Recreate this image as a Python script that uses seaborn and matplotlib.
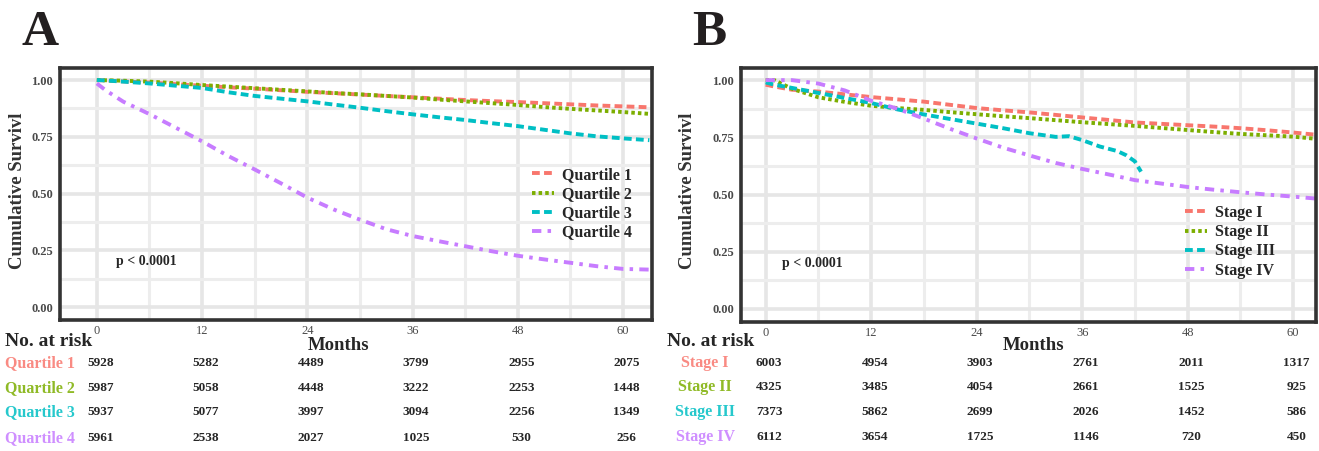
import numpy as np
import pandas as pd
import matplotlib
matplotlib.use("Agg")
import matplotlib.pyplot as plt
import matplotlib.ticker as mticker
from matplotlib.transforms import blended_transform_factory
import seaborn as sns

# ---- data ----
times_a = [0, 1, 3, 6, 9, 12, 15, 18, 21, 24, 27, 30, 33, 36, 39, 42, 45, 48, 51, 54, 57, 60, 63]
quartile_1 = [1.0, 0.998, 0.994, 0.989, 0.982, 0.975, 0.968, 0.962, 0.955, 0.948, 0.942, 0.936,
              0.930, 0.924, 0.918, 0.912, 0.907, 0.903, 0.898, 0.893, 0.888, 0.884, 0.880]
quartile_2 = [1.0, 0.999, 0.997, 0.993, 0.986, 0.978, 0.971, 0.964, 0.957, 0.950, 0.943, 0.937,
              0.930, 0.923, 0.914, 0.906, 0.898, 0.890, 0.881, 0.873, 0.866, 0.859, 0.851]
quartile_3 = [1.0, 0.998, 0.993, 0.985, 0.975, 0.965, 0.946, 0.930, 0.918, 0.906, 0.892, 0.878,
              0.863, 0.849, 0.836, 0.824, 0.810, 0.797, 0.781, 0.765, 0.752, 0.743, 0.735]
quartile_4 = [0.985, 0.955, 0.905, 0.850, 0.790, 0.730, 0.665, 0.606, 0.545, 0.482, 0.430, 0.385,
              0.343, 0.313, 0.290, 0.268, 0.246, 0.226, 0.210, 0.195, 0.180, 0.168, 0.165]

times_b = [0, 1, 3, 6, 9, 12, 15, 18, 21, 24, 27, 30, 33, 36, 39, 42, 45, 48, 51, 54, 57, 60, 63]
stage_1 = [0.980, 0.972, 0.958, 0.950, 0.938, 0.926, 0.916, 0.906, 0.892, 0.878, 0.868, 0.859,
           0.848, 0.837, 0.826, 0.815, 0.809, 0.803, 0.797, 0.790, 0.781, 0.771, 0.760]
stage_2 = [1.0, 1.0, 0.962, 0.925, 0.905, 0.888, 0.878, 0.870, 0.860, 0.851, 0.842, 0.834,
           0.825, 0.816, 0.808, 0.800, 0.791, 0.782, 0.773, 0.765, 0.759, 0.753, 0.742]
times_stage_3 = [0, 1, 3, 6, 9, 12, 15, 18, 21, 24, 27, 30, 33, 34.5, 36, 38, 40, 41, 42, 42.3, 42.7]
stage_3 = [0.990, 0.980, 0.966, 0.944, 0.922, 0.900, 0.872, 0.850, 0.830, 0.810, 0.790, 0.768,
           0.752, 0.755, 0.738, 0.710, 0.690, 0.672, 0.645, 0.625, 0.600]
stage_4 = [1.0, 1.0, 1.0, 0.985, 0.955, 0.910, 0.875, 0.832, 0.787, 0.745, 0.705, 0.671,
           0.638, 0.612, 0.588, 0.563, 0.548, 0.533, 0.521, 0.510, 0.500, 0.491, 0.481]

groups_a = ["Quartile 1", "Quartile 2", "Quartile 3", "Quartile 4"]
groups_b = ["Stage I", "Stage II", "Stage III", "Stage IV"]

risk_times = [0, 12, 24, 36, 48, 60]
risk_a = [[5928, 5282, 4489, 3799, 2955, 2075],
          [5987, 5058, 4448, 3222, 2253, 1448],
          [5937, 5077, 3997, 3094, 2256, 1349],
          [5961, 2538, 2027, 1025, 530, 256]]
risk_b = [[6003, 4954, 3903, 2761, 2011, 1317],
          [4325, 3485, 4054, 2661, 1525, 925],
          [7373, 5862, 2699, 2026, 1452, 586],
          [6112, 3654, 1725, 1146, 720, 450]]

colors = ["#F8766D", "#7CAE00", "#00BFC4", "#C77CFF"]
dash_styles = [(2.0, 1.1), (0.9, 0.8), (2.0, 1.1), (2.4, 1.6, 0.9, 1.6)]

# long tables for seaborn
df_a = pd.concat([pd.DataFrame({"Months": times_a, "Survival": v, "group": g})
                  for g, v in zip(groups_a, [quartile_1, quartile_2, quartile_3, quartile_4])])
df_b = pd.concat([pd.DataFrame({"Months": t, "Survival": v, "group": g})
                  for g, t, v in zip(groups_b,
                                     [times_b, times_b, times_stage_3, times_b],
                                     [stage_1, stage_2, stage_3, stage_4])])

sns.set_style("white")
plt.rcParams["font.family"] = ["Liberation Serif", "DejaVu Serif"]

W, H = 1319, 451
fig = plt.figure(figsize=(W / 100, H / 100), dpi=100)


def px_axes(left, top, right, bottom):
    return fig.add_axes([left / W, 1 - bottom / H, (right - left) / W, (bottom - top) / H])


def style_axes(ax, xlim):
    ax.set_xlim(*xlim)
    ax.set_ylim(-0.057, 1.053)
    ax.xaxis.set_major_locator(mticker.MultipleLocator(12))
    ax.xaxis.set_minor_locator(mticker.MultipleLocator(6))
    ax.yaxis.set_major_locator(mticker.FixedLocator([0, 0.25, 0.5, 0.75, 1.0]))
    ax.yaxis.set_minor_locator(mticker.FixedLocator([0.125, 0.375, 0.625, 0.875]))
    ax.yaxis.set_major_formatter(mticker.FormatStrFormatter("%.2f"))
    ax.grid(which="major", color="#E6E6E6", lw=2.6)
    ax.grid(which="minor", color="#EDEDED", lw=2.2)
    ax.set_axisbelow(True)
    for s in ax.spines.values():
        s.set_color("#333333")
        s.set_linewidth(2.6)
    ax.tick_params(axis="both", which="major", length=3, width=0.8, color="#333333",
                   labelsize=9, labelcolor="#4A4A4A", pad=2)
    ax.tick_params(axis="x", which="major", pad=0.5)
    ax.tick_params(which="minor", length=0)
    for lab in ax.get_yticklabels():
        lab.set_fontweight("bold")
    ax.set_xlabel("")
    ax.set_ylabel("")


def panel(ax, df, groups, risk, xlim, letter, letter_x, ylabel_x, p_xy, leg_anchor,
          label_x, label_ha, row_y, risk_x, months_x):
    sns.lineplot(data=df, x="Months", y="Survival", hue="group", style="group",
                 palette=dict(zip(groups, colors)), dashes=dict(zip(groups, dash_styles)),
                 linewidth=2.8, ax=ax, legend=True)
    style_axes(ax, xlim)
    handles, labels = ax.get_legend_handles_labels()
    ax.legend(handles, labels, loc="upper left", bbox_to_anchor=leg_anchor,
              bbox_transform=fig.transFigure, frameon=False, handlelength=1.35,
              handletextpad=0.5, labelspacing=0.2, borderaxespad=0, borderpad=0,
              prop={"family": "Liberation Serif", "weight": "bold", "size": 11.5})
    ax.text(p_xy[0], p_xy[1], "p < 0.0001", fontsize=10, fontweight="bold",
            transform=ax.transData, va="center")

    fig.text(letter_x / W, 1 - 45 / H, letter, fontsize=37, fontweight="bold", color="#231F20")
    fig.text(ylabel_x / W, 1 - 191 / H, "Cumulative Survivl", rotation=90, fontsize=13.5,
             fontweight="bold", va="center", ha="center", color="#333333")

    tr = blended_transform_factory(ax.transData, fig.transFigure)
    fig.text(risk_x / W, 1 - 342 / H, "No. at risk", fontsize=14, fontweight="bold",
             va="center", ha="left")
    ax.text(months_x, 1 - 345 / H, "Months", fontsize=13.5, fontweight="bold",
            va="center", ha="center", transform=tr)
    for g, c, row, y in zip(groups, colors, risk, row_y):
        fig.text(label_x / W, 1 - y / H, g, color=c, fontsize=11.5, fontweight="bold",
                 va="center", ha=label_ha, alpha=0.85)
        for t, n in zip(risk_times, row):
            ax.text(t + 0.4, 1 - y / H, str(n), fontsize=9.5, fontweight="bold",
                    va="center", ha="center", transform=tr)


ax_a = px_axes(60, 68, 652, 320)
panel(ax_a, df_a, groups_a, risk_a, (-4.2, 63.3), "A", 21, 18, (2.2, 0.20),
      (532 / W, 1 - 167 / H), 5, "left", [363, 388, 412, 438], 5, 27.6)

ax_b = px_axes(741, 68, 1316, 322)
panel(ax_b, df_b, groups_b, risk_b, (-2.8, 62.6), "B", 692, 688, (1.9, 0.20),
      (1185 / W, 1 - 205 / H), 705, "center", [363, 387, 412, 437], 667, 30.5)

fig.savefig("out.png", dpi=100)
